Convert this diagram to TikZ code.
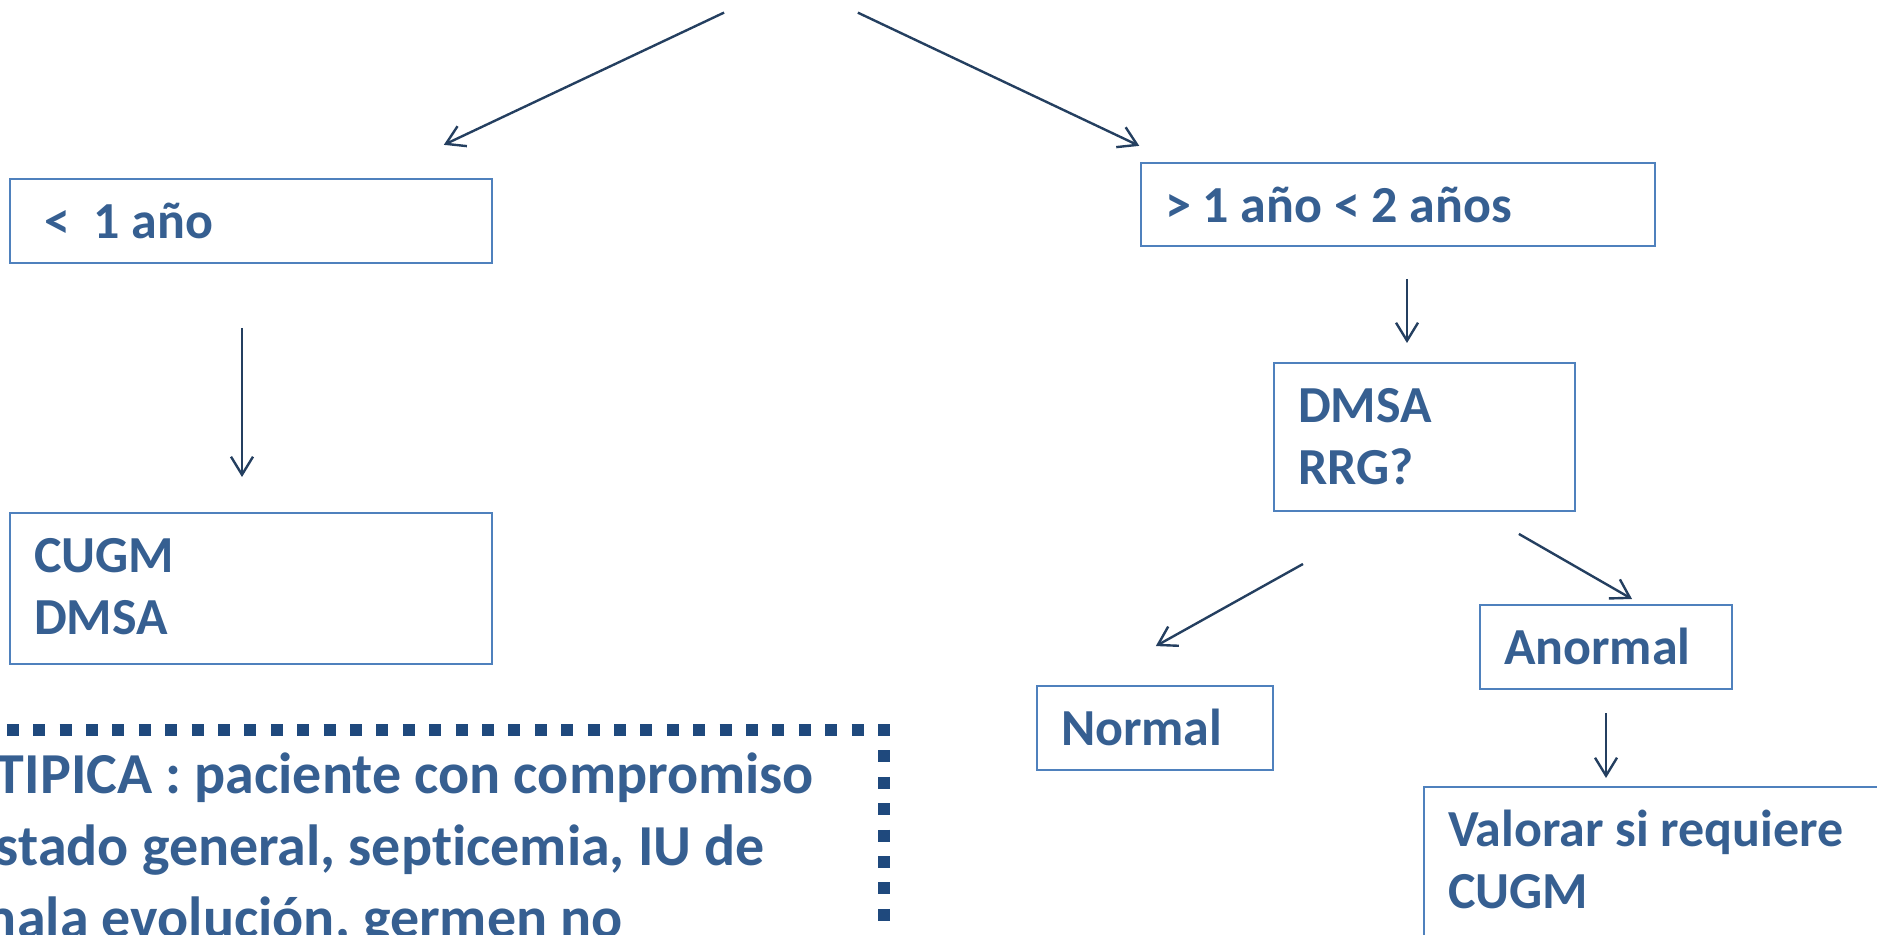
\documentclass[tikz,border=0pt]{standalone}
\usepackage{fontspec}
\setmainfont{Carlito}[Ligatures=NoCommon]
\usepackage{tikz}
\usetikzlibrary{arrows.meta, positioning, calc}
\definecolor{itu-borde}{RGB}{79,129,189}
\definecolor{itu-texto}{RGB}{54,95,145}
\definecolor{itu-flecha}{RGB}{36,63,96}
\definecolor{itu-punteado}{RGB}{31,73,125}

\begin{document}
\begin{tikzpicture}[
    x=0.5pt, y=-0.5pt,
    caja/.style={rectangle, draw=itu-borde, line width=1.35pt, anchor=north west, outer sep=0pt, inner xsep=12pt, inner ysep=11.75pt, text height=18pt, align=flush left, text=itu-texto, font=\fontsize{26}{31}\selectfont\bfseries},
    nota/.style={rectangle, anchor=north west, outer sep=0pt, inner xsep=12pt, inner ysep=11.5pt, text height=20pt, align=flush left, text=itu-texto, font=\fontsize{29}{36}\selectfont\bfseries},
    flecha/.style={-{Straight Barb[length=9pt, width=11pt]}, line width=1.2pt, color=itu-flecha},
    punteado/.style={line width=6pt, color=itu-punteado, dash pattern=on 6pt off 7.2pt, dash phase=9pt}
]
    \useasboundingbox (0,0) rectangle (1877,935);
    \clip (0,0) rectangle (1877,935);

    % Cajas
    \node[caja, text width=217pt, text depth=0.5pt] (menor) at (10,179) {\hspace*{5pt}<\ \ 1 año};
    \node[caja, text width=217pt, text depth=34pt] (cugm) at (10,513) {CUGM\\DMSA};

    \node[caja, text width=233pt, text depth=0pt] (mayor) at (1141,163) {> 1 año < 2 años};
    \node[caja, text width=126.5pt, text depth=32.5pt] (dmsa) at (1274,363) {DMSA\\RRG?};
    \node[caja, text width=94pt, text depth=0.5pt] (normal) at (1037,686) {Normal};
    \node[caja, text width=102pt, text depth=0.5pt] (anormal) at (1480,605) {Anormal};
    \node[caja, text width=276pt, text depth=100pt] (valorar) at (1424,787) {Valorar si requiere\\CUGM};

    % Nota punteada
    \node[nota, text width=432pt, text depth=150pt] (atipica) at (-28,730) {TIPICA : paciente con compromiso\\stado general, septicemia, IU de\\\hspace*{-13pt}mala evolución, germen no};
    \draw[punteado] (atipica.north west) -- (atipica.north east) -- (atipica.south east);

    % Flechas
    \coordinate (raiz) at (791,-19);
    \draw[flecha, shorten <=37pt, shorten >=40pt] (raiz) -- ($(menor.north)!0.5!(menor.north east)$);
    \draw[flecha, shorten <=37pt, shorten >=20pt] (raiz) -- ($(mayor.north west)!0.134!(mayor.north)$);
    \draw[flecha, shorten <=32.5pt, shorten >=18pt] ([xshift=-4.5pt]menor.south) -- ([xshift=-4.5pt]cugm.north);
    \draw[flecha, shorten <=16.5pt, shorten >=10pt] ([xshift=4.5pt]mayor.south) -- ([xshift=4.5pt]mayor.south |- dmsa.north);
    \draw[flecha, shorten <=54.4pt, shorten >=41pt] ($(dmsa.south west)!0.824!(dmsa.south)$) -- ($(normal.north west)!0.4!(normal.north)$);
    \draw[flecha, shorten <=23pt, shorten >=6pt] ($(dmsa.south)!0.362!(dmsa.south east)$) -- ($(anormal.north)!0.289!(anormal.north east)$);
    \draw[flecha, shorten <=12pt, shorten >=4.5pt] (anormal.south) -- (anormal.south |- valorar.north);
\end{tikzpicture}
\end{document}
